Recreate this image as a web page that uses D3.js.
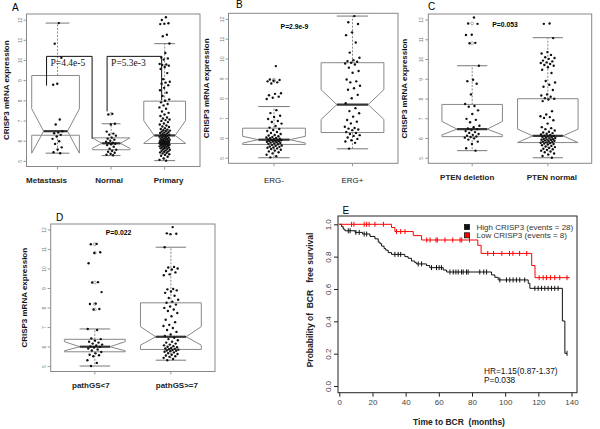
<!DOCTYPE html>
<html><head><meta charset="utf-8">
<script src="https://cdn.jsdelivr.net/npm/d3@7"></script>
<style>body{margin:0;background:#fff}svg{display:block}</style>
</head><body><svg id="c" width="600" height="429"></svg>
<script>
// ---------------- DATA ----------------
const yTicks = [5,6,7,8,9,10,11,12];
const yTitle = "CRISP3 mRNA expression";

// Panel A
const catsA = ["Metastasis","Normal","Primary"];
const metastasis = [11.83,10.81,10.11,8.82,8.77,7.05,6.80,6.47,6.40,6.37,6.29,6.21,6.09,5.97,5.84,5.67,5.56,5.43,5.38];
const normal = [7.33,7.30,6.84,6.80,6.45,6.35,6.30,6.25,6.15,6.10,6.05,6.00,5.95,5.90,5.88,5.85,5.82,5.78,5.70,5.60,5.55,5.50,5.45,5.40,5.35,5.30,5.28];
const primary = [12.12,11.98,11.82,11.80,11.78,11.25,11.18,10.82,10.35,10.12,10.08,10.02,9.80,9.78,9.75,9.72,9.65,9.55,9.35,9.05,8.92,8.88,8.82,8.75,8.62,8.50,8.38,8.22,8.05,7.98,7.90,7.82,7.75,7.65,7.58,7.45,7.38,7.30,7.22,7.15,7.10,7.05,7.02,6.98,6.92,6.85,6.80,6.75,6.70,6.68,6.62,6.58,6.55,6.52,6.50,6.48,6.45,6.42,6.40,6.38,6.35,6.33,6.30,6.28,6.26,6.24,6.22,6.20,6.18,6.16,6.14,6.12,6.10,6.08,6.06,6.05,6.04,6.02,6.00,5.99,5.98,5.96,5.95,5.94,5.92,5.91,5.90,5.89,5.88,5.87,5.86,5.85,5.84,5.83,5.82,5.81,5.80,5.78,5.77,5.75,5.73,5.72,5.70,5.68,5.66,5.64,5.62,5.60,5.58,5.55,5.52,5.50,5.47,5.45,5.42,5.40,5.37,5.33,5.30,5.25,5.20,5.12,5.05,5.01];
// box stats: [lowWhisker, Q1, notchLow, median, notchHigh, Q3, highWhisker]
const statsA = [[5.38,6.27,5.38,6.47,7.58,9.23,11.83],[5.26,5.55,5.62,5.87,6.14,6.14,6.84],[5.01,5.86,5.87,6.26,6.99,7.96,10.81]];
const outA = [[],[7.33],[]];
const pLabelsA = ["P=4.4e-5","P=5.3e-3"];
// bracket: [group, yTop, yLeftEnd, yRightEnd]
const bracketA = [[10.18,8.73,6.10],[10.18,7.45,8.00]];

// Panel B
const catsB = ["ERG-","ERG+"];
const ergNeg = [9.62,8.94,8.92,8.88,8.85,8.80,8.74,8.25,8.22,8.15,8.08,8.02,7.96,7.40,7.25,7.12,7.05,6.95,6.85,6.80,6.72,6.60,6.52,6.45,6.40,6.35,6.30,6.25,6.20,6.15,6.12,6.08,6.05,6.02,6.00,5.98,5.96,5.94,5.92,5.90,5.89,5.88,5.86,5.85,5.83,5.82,5.80,5.78,5.76,5.74,5.72,5.70,5.68,5.65,5.62,5.60,5.57,5.55,5.52,5.50,5.47,5.44,5.40,5.36,5.32,5.28,5.22,5.15,5.08,5.02];
const ergPos = [12.14,11.83,11.74,11.32,11.18,10.81,10.30,10.04,9.92,9.87,9.84,9.79,9.75,9.70,9.54,9.37,9.28,8.94,8.85,8.80,8.63,8.50,8.43,8.17,8.00,7.75,7.50,7.35,7.24,7.07,6.90,6.82,6.73,6.56,6.50,6.47,6.42,6.39,6.30,6.25,6.20,6.14,6.10,6.02,5.95,5.88,5.82,5.75,5.46];
const statsB = [[5.00,5.67,5.74,5.91,6.08,6.49,7.58],[5.45,6.27,6.93,7.68,8.43,9.79,12.14]];
const outB = [[8.94,8.86],[]];
const pLabelB = "P=2.9e-9";

// Panel C
const catsC = ["PTEN deletion","PTEN normal"];
const ptenDel = [12.10,11.80,11.78,11.23,11.22,10.82,10.80,9.66,8.95,8.88,8.75,8.21,7.72,7.62,7.58,7.40,7.22,6.97,6.92,6.80,6.62,6.55,6.48,6.45,6.40,6.35,6.30,6.26,6.20,6.16,6.12,6.08,6.05,6.02,5.98,5.92,5.82,5.70,5.48,5.36];
const ptenNorm = [11.80,11.78,11.06,10.35,10.28,10.21,10.09,10.05,10.01,9.92,9.88,9.83,9.80,9.75,9.70,9.66,9.58,9.46,9.29,8.89,8.81,8.70,8.60,8.43,8.21,8.15,8.09,8.02,7.99,7.95,7.87,7.36,7.19,7.10,7.06,7.02,6.90,6.73,6.55,6.50,6.45,6.38,6.32,6.28,6.25,6.22,6.18,6.15,6.12,6.10,6.08,6.06,6.04,6.02,6.00,5.98,5.96,5.94,5.92,5.91,5.90,5.88,5.86,5.84,5.82,5.80,5.78,5.76,5.74,5.72,5.70,5.67,5.64,5.60,5.57,5.54,5.50,5.46,5.43,5.40,5.36,5.32,5.28,5.22,5.16,5.09,5.00];
const statsC = [[5.36,6.07,6.16,6.45,6.84,7.70,9.66],[5.00,5.77,5.77,6.11,6.45,7.99,11.08]];
const outC = [[11.80,10.80],[]];
const pLabelC = "P=0.053";

// Panel D
const catsD = ["pathGS<7","pathGS>=7"];
const gsLow = [11.26,11.24,10.83,10.80,10.27,9.30,9.28,8.79,8.20,8.18,7.92,7.90,6.90,6.85,6.42,6.38,6.30,6.25,6.20,6.15,6.10,6.05,6.00,5.98,5.95,5.90,5.85,5.80,5.72,5.65,5.58,5.55,5.50,5.30,5.16,5.00];
const gsHigh = [12.12,11.80,11.78,11.76,11.09,10.08,10.05,10.00,9.95,9.87,9.80,9.70,9.65,8.95,8.93,8.88,8.82,8.75,8.60,8.49,8.40,8.30,8.24,8.15,8.05,7.98,7.90,7.82,7.72,7.55,7.37,7.25,7.11,7.05,6.95,6.85,6.75,6.62,6.54,6.45,6.38,6.32,6.25,6.20,6.15,6.10,6.06,6.02,5.99,5.96,5.93,5.90,5.88,5.86,5.84,5.82,5.80,5.78,5.76,5.73,5.70,5.66,5.62,5.58,5.54,5.50,5.47,5.42,5.36,5.30];
const statsD = [[5.00,5.73,5.78,5.99,6.25,6.37,6.90],[5.30,5.85,6.07,6.50,7.02,8.24,11.09]];
const outD = [[11.24,10.80,9.28,8.18,7.90],[]];
const pLabelD = "P=0.022";

// Panel E (Kaplan-Meier)
const kmXTicks = [0,20,40,60,80,100,120,140];
const kmYTicks = [0,0.2,0.4,0.6,0.8,1.0];
const highSteps = [[1.4,0.985],[2.4,0.97],[3.4,0.96],[9.5,0.95],[14,0.94],[18.5,0.925],[21.5,0.91],[23.5,0.89],[24.5,0.88],[25.5,0.865],[27,0.85],[28,0.84],[29.5,0.825],[31.5,0.814],[39.5,0.80],[41.5,0.79],[43.5,0.773],[45.5,0.763],[46.5,0.755],[52.5,0.745],[54.5,0.732],[62.7,0.717],[64.7,0.705],[91.8,0.687],[93.8,0.672],[95.8,0.656],[113.9,0.635],[114.9,0.604],[134.5,0.402],[136,0.202]];
const highCensor = [5.4,6.5,10,12,15,16.5,33.5,35.5,37,47.6,49.6,55.6,58.6,60.2,61.6,66.7,68.7,70.3,71.7,73.7,74.7,76.7,77.7,84.7,87.1,88.8,96.8,100.8,102.8,104.8,106.8,108.8,111.8,117.9,119.9,121.9,123.9,125.9,127.9,129.9,131.9,137.3];
const highEnd = 137.3;
const lowSteps = [[31.5,0.98],[33.5,0.955],[44.6,0.93],[49.6,0.903],[83.5,0.87],[85.5,0.82],[116,0.745],[118,0.67]];
const lowCensor = [7.4,8.8,15,16.5,18,21.5,26.6,34.5,37,39.6,52.7,54.7,58.3,59.1,63.7,68.4,72.8,73.8,78.5,89.5,93,98,102.6,104.7,108.7,113,120.5,122.9,124.9,127.3,129.9,132.9,137.3];
const lowEnd = 139;
const legendE = ["High CRISP3 (events = 28)","Low CRISP3 (events = 8)"];
const statE = ["HR=1.15(0.87-1.37)","P=0.038"];

// ---------------- DRAW ----------------
const svg = d3.select("#c");
svg.append("rect").attr("width",600).attr("height",429).attr("fill","#fff");
const SANS = "Liberation Sans, Arial, sans-serif";
const SERIF = "Liberation Serif, Times New Roman, serif";
const jit = i => ((i * 0.6180339887) % 1) * 2 - 1;

function boxPanel(cfg){
  const g = svg.append("g");
  const x = d3.scaleLinear().domain(cfg.xdom).range([cfg.x0, cfg.x1]);
  const y = d3.scaleLinear().domain([4.72, 12.28]).range([cfg.y1, cfg.y0]);
  const unit = x(1) - x(0);
  g.append("rect").attr("x",cfg.x0).attr("y",cfg.y0).attr("width",cfg.x1-cfg.x0).attr("height",cfg.y1-cfg.y0)
    .attr("fill","none").attr("stroke","#888").attr("stroke-width",1);
  // y axis
  const ax = g.append("g").attr("transform",`translate(${cfg.x0},0)`)
    .call(d3.axisLeft(y).tickValues(yTicks).tickSize(3).tickFormat(d3.format("d")));
  ax.select(".domain").remove();
  ax.selectAll(".tick line").attr("stroke","#999");
  ax.selectAll(".tick text").attr("x",0).attr("dy",0).attr("text-anchor","middle")
    .attr("transform","translate(-5,0) rotate(-90)").attr("font-size",5).attr("fill","#777").attr("font-family",SANS);
  // x ticks
  cfg.cats.forEach((c,i)=>{
    g.append("line").attr("x1",x(i+1)).attr("x2",x(i+1)).attr("y1",cfg.y1).attr("y2",cfg.y1+3).attr("stroke","#999");
    g.append("text").attr("x",x(i+1)+(cfg.labDx?cfg.labDx[i]:0)).attr("y",cfg.labY).attr("text-anchor","middle")
      .attr("font-family",SANS).attr("font-size",cfg.labSize).attr("font-weight",cfg.labWeight).attr("fill","#222").text(c);
  });
  // y title
  g.append("text").attr("transform",`translate(${cfg.titleX},${(cfg.y0+cfg.y1)/2}) rotate(-90)`)
    .attr("text-anchor","middle").attr("font-family",SANS).attr("font-size",8).attr("font-weight","bold").attr("fill","#111").text(yTitle);
  // boxes
  cfg.stats.forEach((s,i)=>{
    const c = x(i+1) + (cfg.boxDx?cfg.boxDx[i]:0);
    const w = unit * (cfg.widths ? cfg.widths[i] : 0.8);
    const xl = c - w/2, xr = c + w/2, il = c - w/4, ir = c + w/4;
    const [lw,q1,nl,md,nh,q3,hw] = s;
    const poly = [[xl,y(q1)],[xl,y(nl)],[il,y(md)],[xl,y(nh)],[xl,y(q3)],[xr,y(q3)],[xr,y(nh)],[ir,y(md)],[xr,y(nl)],[xr,y(q1)]];
    g.append("path").attr("d", d3.line()(poly)+"Z").attr("fill","none").attr("stroke","#888").attr("stroke-width",1);
    g.append("line").attr("x1",il).attr("x2",ir).attr("y1",y(md)).attr("y2",y(md)).attr("stroke","#333").attr("stroke-width",2.2);
    const wx = x(i+1);
    [[q3,hw],[q1,lw]].forEach(([a,b])=>{
      g.append("line").attr("x1",wx).attr("x2",wx).attr("y1",y(a)).attr("y2",y(b)).attr("stroke","#888").attr("stroke-dasharray","2,1.5");
      g.append("line").attr("x1",wx-w/4).attr("x2",wx+w/4).attr("y1",y(b)).attr("y2",y(b)).attr("stroke","#777");
    });
    (cfg.outs[i]||[]).forEach(v=>{
      g.append("circle").attr("cx",wx).attr("cy",y(v)).attr("r",1.4).attr("fill","none").attr("stroke","#888").attr("stroke-width",0.7);
    });
  });
  // points
  cfg.series.forEach((arr,i)=>{
    const wx = x(i+1) + (cfg.ptDx?cfg.ptDx[i]:0);
    g.selectAll(null).data(arr).enter().append("circle")
      .attr("cx",(d,k)=>wx + jit(k+1)*unit*cfg.jitter).attr("cy",d=>y(d)).attr("r",1.2).attr("fill","#111");
  });
  return {g,x,y};
}

// Panel A
const pa = boxPanel({x0:26.5,x1:200,y0:14,y1:166.5,xdom:[0.42,3.66],cats:catsA,stats:statsA,outs:outA,
  series:[metastasis,normal,primary],widths:[0.89,0.70,0.78],boxDx:[-2,0,0],jitter:0.1,labY:183,labSize:8,labWeight:"bold",labDx:[-11,-2,4],titleX:8.5});
pa.g.append("text").attr("x",12).attr("y",11).attr("font-family",SANS).attr("font-size",10).text("A");
bracketA.forEach((b,i)=>{
  const xL = pa.x(i+1) + (i===0 ? -11 : -4);
  const xR = pa.x(i+2) + (i===0 ? -19 : -3);
  pa.g.append("path").attr("d",d3.line()([[xL,pa.y(b[1])],[xL,pa.y(b[0])],[xR,pa.y(b[0])],[xR,pa.y(b[2])]]))
    .attr("fill","none").attr("stroke","#111").attr("stroke-width",1);
  pa.g.append("text").attr("x",xL+4).attr("y",pa.y(b[0])+10).attr("font-family",SERIF).attr("font-size",9.5).attr("fill","#111").text(pLabelsA[i]);
});

// Panel B
const pb = boxPanel({x0:228.5,x1:398,y0:13.3,y1:163.3,xdom:[0.42,2.58],cats:catsB,stats:statsB,outs:outB,
  series:[ergNeg,ergPos],jitter:0.1,labY:183,labSize:8,labWeight:"normal",titleX:208.5});
pb.g.append("text").attr("x",236).attr("y",8).attr("font-family",SANS).attr("font-size",10).text("B");
pb.g.append("text").attr("x",294.5).attr("y",28.5).attr("text-anchor","middle").attr("font-family",SANS).attr("font-size",6.8).attr("font-weight","bold").text(pLabelB);

// Panel C
const pc = boxPanel({x0:428.3,x1:591.7,y0:14,y1:163.3,xdom:[0.42,2.58],cats:catsC,stats:statsC,outs:outC,
  series:[ptenDel,ptenNorm],jitter:0.1,labY:179.5,labSize:8,labWeight:"bold",labDx:[-5,4],titleX:407});
pc.g.append("text").attr("x",428).attr("y",10).attr("font-family",SANS).attr("font-size",10).text("C");
pc.g.append("text").attr("x",505).attr("y",26.8).attr("text-anchor","middle").attr("font-family",SANS).attr("font-size",6.8).attr("font-weight","bold").text(pLabelC);

// Panel D
const pd = boxPanel({x0:50.7,x1:215,y0:224,y1:371.5,xdom:[0.42,2.58],cats:catsD,stats:statsD,outs:outD,
  series:[gsLow,gsHigh],jitter:0.1,labY:387.5,labSize:8,labWeight:"bold",labDx:[-4,6],titleX:27});
pd.g.append("text").attr("x",56).attr("y",221).attr("font-family",SANS).attr("font-size",10).text("D");
pd.g.append("text").attr("x",118.5).attr("y",234.5).attr("text-anchor","middle").attr("font-family",SANS).attr("font-size",6.8).attr("font-weight","bold").text(pLabelD);

// Panel E
(function(){
  const g = svg.append("g");
  const fx0=338, fx1=577, fy0=216, fy1=392.7;
  const x = d3.scaleLinear().domain([0,140]).range([339.3,571.5]);
  const y = d3.scaleLinear().domain([0,1]).range([386,224.3]);
  g.append("rect").attr("x",fx0).attr("y",fy0).attr("width",fx1-fx0).attr("height",fy1-fy0).attr("fill","none").attr("stroke","#222");
  const ax = g.append("g").attr("transform",`translate(0,${fy1})`).call(d3.axisBottom(x).tickValues(kmXTicks).tickSize(4).tickFormat(d3.format("d")));
  ax.select(".domain").remove();
  ax.selectAll(".tick line").attr("stroke","#222");
  ax.selectAll(".tick text").attr("y",10).attr("dy","0.35em").attr("font-size",8).attr("font-family",SANS).attr("fill","#444");
  const ay = g.append("g").attr("transform",`translate(${fx0},0)`).call(d3.axisLeft(y).tickValues(kmYTicks).tickSize(4).tickFormat(d3.format(".1f")));
  ay.select(".domain").remove();
  ay.selectAll(".tick line").attr("stroke","#222");
  ay.selectAll(".tick text").attr("x",0).attr("dy",0).attr("text-anchor","middle")
    .attr("transform","translate(-7,0) rotate(-90)").attr("font-size",8).attr("font-family",SANS).attr("fill","#444");
  g.append("text").attr("x",459).attr("y",425).attr("text-anchor","middle").attr("font-family",SANS).attr("font-size",8.5).attr("font-weight","bold").attr("fill","#222").attr("xml:space","preserve").style("white-space","pre").text("Time to BCR  (months)");
  g.append("text").attr("transform","translate(313,300) rotate(-90)").attr("text-anchor","middle").attr("font-family",SANS).attr("font-size",8.5).attr("font-weight","bold").attr("fill","#222").style("white-space","pre").text("Probability of  BCR   free survival");
  g.append("text").attr("x",342.5).attr("y",213.5).attr("font-family",SANS).attr("font-size",10).text("E");
  function curve(steps,end,color,censor){
    const pts=[[x(0),y(1)]]; let s=1;
    steps.forEach(([t,v])=>{pts.push([x(t),y(s)]); pts.push([x(t),y(v)]); s=v;});
    pts.push([x(end),y(s)]);
    g.append("path").attr("d",d3.line()(pts)).attr("fill","none").attr("stroke",color).attr("stroke-width",1);
    const surv = t => { let v=1; steps.forEach(([tt,vv])=>{ if(tt<=t) v=vv; }); return v; };
    censor.forEach(t=>{
      g.append("line").attr("x1",x(t)).attr("x2",x(t)).attr("y1",y(surv(t))-2.5).attr("y2",y(surv(t))+2.5).attr("stroke",color).attr("stroke-width",1);
    });
  }
  curve(highSteps,highEnd,"#111",highCensor);
  curve(lowSteps,lowEnd,"#f00",lowCensor);
  const colors=["#111","#f00"];
  legendE.forEach((t,i)=>{
    g.append("rect").attr("x",464.5).attr("y",224.5+i*8.3).attr("width",5).attr("height",5).attr("fill",colors[i]).attr("stroke","#111").attr("stroke-width",0.8);
    g.append("text").attr("x",476.5).attr("y",230+i*8.3).attr("font-family",SANS).attr("font-size",8).attr("fill","#333").text(t);
  });
  statE.forEach((t,i)=>{
    g.append("text").attr("x",484).attr("y",373.5+i*9.5).attr("font-family",SANS).attr("font-size",8.3).attr("fill","#111").text(t);
  });
})();
</script></body></html>
